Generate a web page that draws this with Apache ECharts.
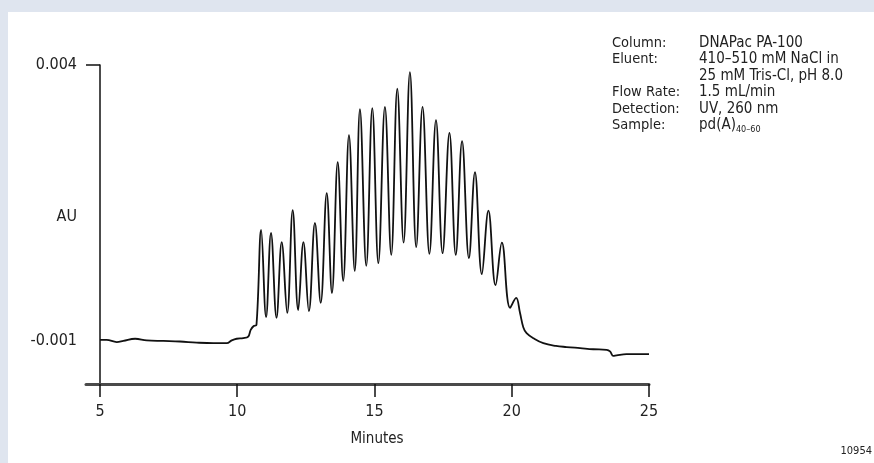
<!DOCTYPE html>
<html>
<head>
<meta charset="utf-8">
<script src="https://cdn.jsdelivr.net/npm/echarts@6/dist/echarts.min.js"></script>
<style>
  html, body { margin: 0; padding: 0; background: #dfe5ef; }
  #paper { position: absolute; left: 8px; top: 12px; right: 0; bottom: 0; background: #fff; }
  #chromatogram { position: absolute; left: 0; top: 0; width: 874px; height: 463px; }
</style>
</head>
<body>
<div id="paper"></div>
<div id="chromatogram"></div>
<script>
// baseline before the ladder (minutes / AU)
const leadMinutes = [5.00, 5.24, 5.61, 5.85, 6.28, 6.70, 7.31, 7.91, 8.52, 9.13, 9.62, 9.80, 9.98, 10.22, 10.40, 10.49, 10.60, 10.70]
const leadAU = [-0.00098, -0.00098, -0.00102, -0.00100, -0.00096, -0.00099, -0.00100, -0.00101, -0.00103, -0.00104, -0.00104, -0.00099, -0.00096, -0.00095, -0.00092, -0.00080, -0.00073, -0.00071]
// pd(A)40-60 ladder, peak / valley pairs
const ladderMinutes = [10.87, 11.05, 11.23, 11.43, 11.62, 11.82, 12.02, 12.22, 12.41, 12.61, 12.83, 13.04, 13.26, 13.45, 13.66, 13.86, 14.07, 14.28, 14.47, 14.70, 14.92, 15.14, 15.38, 15.61, 15.83, 16.06, 16.29, 16.52, 16.75, 17.00, 17.24, 17.48, 17.73, 17.96, 18.19, 18.44, 18.66, 18.91, 19.15, 19.41, 19.64, 19.94, 20.16]
const ladderAU = [0.00101, -0.00057, 0.00096, -0.00058, 0.00079, -0.00049, 0.00137, -0.00044, 0.00079, -0.00046, 0.00114, -0.00031, 0.00168, -0.00013, 0.00224, 0.00009, 0.00273, 0.00027, 0.00320, 0.00036, 0.00322, 0.00041, 0.00324, 0.00056, 0.00357, 0.00078, 0.00387, 0.00070, 0.00324, 0.00058, 0.00300, 0.00059, 0.00277, 0.00056, 0.00262, 0.00050, 0.00206, 0.00021, 0.00136, 0.00001, 0.00078, -0.00040, -0.00022]
// tail after the last peak
const tailMinutes = [20.30, 20.42, 20.54, 20.79, 21.15, 21.61, 22.00, 22.49, 22.97, 23.46, 23.58, 23.70, 23.82, 24.18, 24.55, 25.00]
const tailAU = [-0.00049, -0.00075, -0.00086, -0.00095, -0.00104, -0.00109, -0.00111, -0.00113, -0.00115, -0.00116, -0.00119, -0.00127, -0.00126, -0.00124, -0.00124, -0.00124]

const xTicks = [5, 10, 15, 20, 25]
const yLabels = [-0.001, 0.004]
const yTicks = [0.004]

const infoLabels = ['Column:', 'Eluent:', '', 'Flow Rate:', 'Detection:', 'Sample:']
const infoValues = ['DNAPac PA-100', '410–510 mM NaCl in', '25 mM Tris-Cl, pH 8.0', '1.5 mL/min', 'UV, 260 nm', 'pd(A){sub|40–60}']

const FONT = '"DejaVu Sans Condensed", "Liberation Sans", sans-serif'
const INK = '#222'

let minutes = leadMinutes.concat(ladderMinutes, tailMinutes)
let absorbance = leadAU.concat(ladderAU, tailAU)
let trace = minutes.map((t, i) => [t, absorbance[i]])

let myChart = echarts.init(document.getElementById('chromatogram'))
let option = {
    animation: false,
    textStyle: { fontFamily: FONT },
    grid: {
        left: 86,
        right: 225,
        top: 65,
        bottom: 79,
        outerBoundsMode: 'none'
    },
    xAxis: {
        type: 'value',
        min: 4.49,
        max: 25,
        name: 'Minutes',
        nameLocation: 'middle',
        nameGap: 48,
        nameMoveOverlap: false,
        nameTextStyle: { color: INK, fontSize: 15, fontFamily: FONT, padding: [0, 0, 0, 19] },
        axisLine: { onZero: false, lineStyle: { color: '#4a4a4a', width: 3 } },
        axisTick: { customValues: xTicks, length: 13, lineStyle: { color: '#111', width: 1.5 } },
        axisLabel: { customValues: xTicks, margin: 20, color: INK, fontSize: 16, fontFamily: FONT },
        splitLine: { show: false }
    },
    yAxis: {
        type: 'value',
        min: -0.00178,
        max: 0.004,
        offset: -14,
        name: 'AU',
        nameLocation: 'middle',
        nameRotate: 0,
        nameGap: 23,
        nameMoveOverlap: false,
        nameTextStyle: { color: INK, fontSize: 16, fontFamily: FONT, verticalAlign: 'bottom' },
        axisLine: { onZero: false, lineStyle: { color: '#111', width: 1.5 } },
        axisTick: { customValues: yTicks, length: 14, lineStyle: { color: '#111', width: 1.5 } },
        axisLabel: {
            customValues: yLabels,
            margin: 23,
            color: INK,
            fontSize: 16,
            fontFamily: FONT,
            formatter: function(value) {
                return value.toFixed(3)
            }
        },
        splitLine: { show: false }
    },
    series: [
        {
            type: 'line',
            data: trace,
            smooth: 0.4,
            showSymbol: false,
            clip: true,
            lineStyle: { color: '#111', width: 1.8 }
        }
    ],
    graphic: [
        {
            type: 'text',
            left: 612,
            top: 35,
            style: {
                text: infoLabels.join('\n'),
                font: '14.5px ' + FONT,
                fill: INK,
                lineHeight: 16.4
            }
        },
        {
            type: 'text',
            left: 699,
            top: 35,
            style: {
                text: infoValues.join('\n'),
                font: '15px ' + FONT,
                fill: INK,
                lineHeight: 16.4,
                rich: {
                    sub: { fontSize: 9, fontFamily: FONT, fill: INK, padding: [9, 0, 0, 0], lineHeight: 16.4 }
                }
            }
        },
        {
            type: 'text',
            right: 2,
            top: 446,
            style: { text: '10954', font: '11px ' + FONT, fill: INK }
        }
    ]
}
myChart.setOption(option)
window.addEventListener('resize', function() {
    myChart.resize()
})
</script>
</body>
</html>
